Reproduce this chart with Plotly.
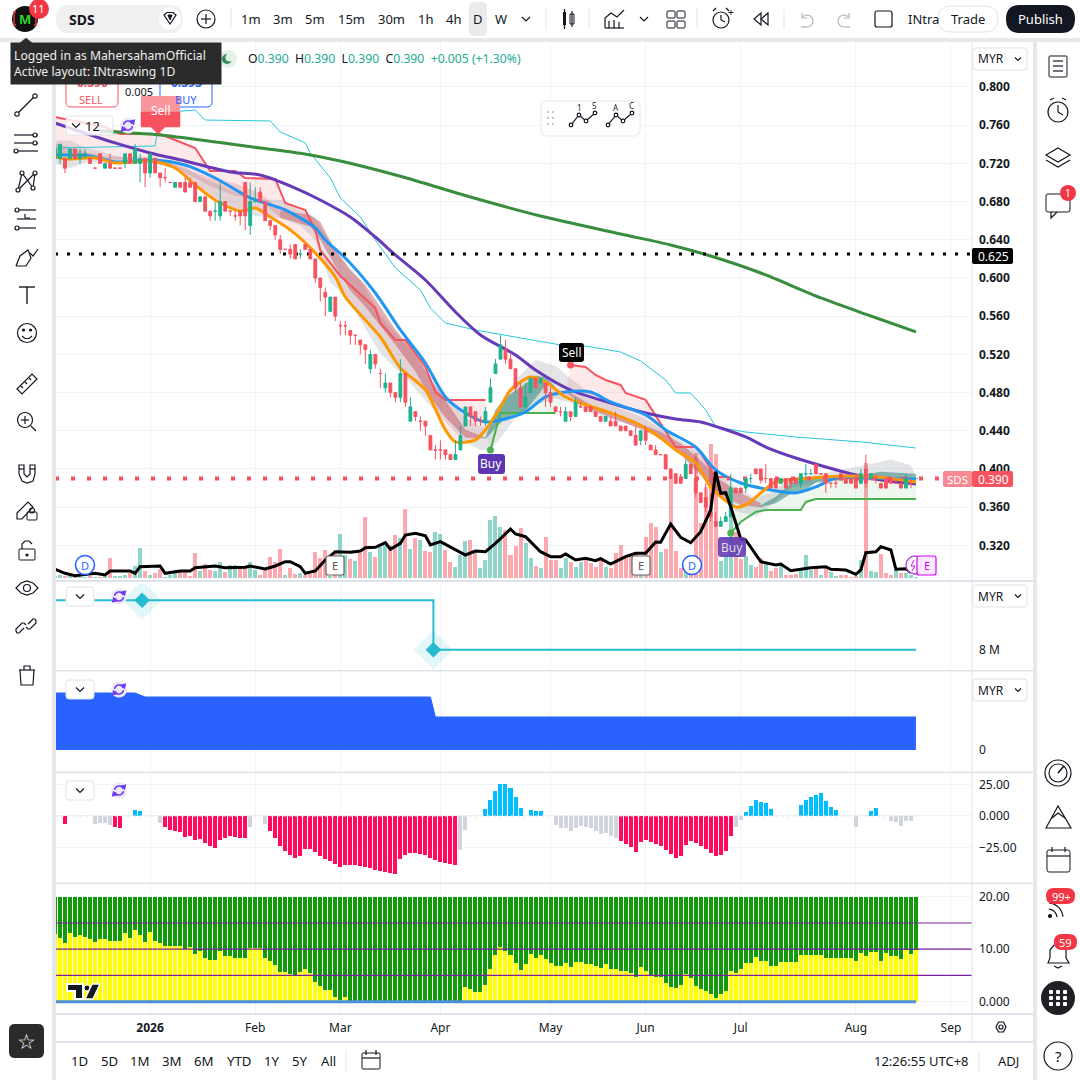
import math
import plotly.graph_objects as go

# ---------- candle data ----------
open_ = [.725,.725,.725,.725,.735,.725,.730,.725,.715,.730,.715,.720,.715,.715,.720,.730,.720,.720,.725,.710,.725,.710,.705,.700,.695,.700,.700,.700,.700,.680,
.685,.670,.670,.665,.680,.670,.665,.670,.700,.655,.680,.690,.680,.660,.655,.640,.630,.630,.635,.625,.635,.630,.620,.600,.585,.565,.580,.550,.550,.545,
.540,.535,.530,.505,.520,.500,.485,.490,.480,.475,.500,.450,.460,.450,.450,.435,.420,.420,.420,.415,.410,.420,.445,.465,.460,.450,.450,.470,.500,.515,
.525,.515,.505,.485,.465,.480,.495,.490,.490,.480,.465,.460,.450,.460,.455,.465,.465,.465,.460,.455,.450,.450,.450,.445,.445,.440,.435,.430,.440,.425,
.420,.415,.415,.400,.395,.390,.390,.405,.390,.375,.370,.355,.345,.340,.345,.350,.380,.380,.380,.390,.400,.400,.390,.390,.390,.385,.390,.390,.390,.385,
.395,.395,.405,.395,.395,.385,.385,.395,.390,.390,.390,.385,.400,.390,.390,.385,.390,.390,.385,.385,.380,.385,.390]
high = [.735,.740,.725,.735,.735,.735,.735,.725,.715,.730,.720,.730,.715,.715,.730,.730,.740,.730,.725,.730,.725,.710,.715,.700,.700,.700,.705,.705,.700,.685,
.685,.670,.680,.700,.680,.670,.670,.670,.700,.700,.695,.695,.680,.660,.655,.645,.630,.635,.635,.630,.635,.630,.620,.600,.590,.580,.580,.555,.555,.545,
.540,.535,.530,.525,.520,.505,.500,.490,.480,.515,.500,.475,.460,.455,.450,.435,.425,.430,.420,.415,.430,.445,.465,.465,.460,.455,.465,.495,.515,.540,
.535,.520,.505,.490,.490,.495,.495,.495,.490,.485,.465,.465,.465,.460,.475,.470,.465,.465,.460,.455,.455,.455,.460,.445,.445,.440,.445,.440,.445,.425,
.425,.415,.415,.400,.395,.395,.410,.405,.405,.375,.385,.375,.355,.350,.355,.395,.380,.380,.390,.395,.400,.400,.405,.390,.390,.390,.390,.390,.390,.395,
.405,.400,.405,.395,.395,.385,.390,.395,.390,.390,.395,.400,.415,.395,.395,.385,.390,.390,.390,.385,.395,.390,.390]
low = [.720,.720,.710,.725,.725,.720,.725,.720,.715,.720,.715,.715,.715,.715,.715,.720,.720,.700,.695,.705,.710,.695,.700,.700,.695,.695,.690,.695,.680,.680,
.670,.660,.660,.660,.670,.665,.660,.655,.650,.645,.680,.680,.660,.650,.640,.625,.630,.620,.620,.620,.630,.620,.595,.575,.560,.565,.555,.540,.540,.530,
.530,.520,.510,.500,.505,.485,.480,.475,.470,.470,.465,.450,.450,.440,.435,.420,.410,.410,.410,.410,.410,.420,.445,.445,.445,.445,.445,.470,.500,.515,
.510,.505,.480,.465,.465,.480,.485,.490,.465,.465,.460,.455,.450,.450,.455,.465,.460,.460,.455,.450,.450,.445,.445,.440,.440,.435,.425,.425,.425,.420,
.415,.415,.400,.390,.385,.385,.390,.395,.370,.365,.355,.345,.340,.340,.345,.350,.375,.375,.375,.385,.395,.385,.385,.380,.380,.385,.380,.380,.385,.380,
.390,.395,.395,.395,.375,.380,.380,.390,.385,.385,.380,.385,.380,.390,.385,.380,.380,.385,.385,.380,.380,.380,.390]
close = [.735,.740,.715,.735,.725,.730,.730,.720,.715,.720,.720,.715,.715,.715,.730,.720,.735,.725,.710,.730,.710,.705,.705,.700,.700,.695,.690,.695,.680,.685,
.670,.665,.670,.680,.670,.670,.665,.665,.665,.680,.680,.680,.660,.655,.645,.630,.630,.625,.620,.625,.630,.620,.600,.590,.580,.580,.560,.550,.550,.540,
.540,.530,.525,.520,.510,.500,.490,.480,.475,.500,.470,.465,.455,.450,.445,.420,.420,.420,.415,.410,.415,.435,.465,.455,.450,.450,.460,.485,.510,.530,
.515,.505,.485,.465,.475,.495,.485,.495,.480,.470,.460,.460,.460,.455,.470,.465,.460,.460,.455,.450,.455,.445,.445,.440,.440,.435,.425,.440,.430,.420,
.415,.415,.400,.390,.385,.385,.405,.395,.375,.365,.360,.350,.340,.345,.350,.380,.375,.375,.390,.390,.395,.390,.390,.380,.380,.390,.380,.385,.385,.395,
.395,.395,.395,.395,.385,.385,.385,.390,.385,.385,.380,.395,.385,.395,.390,.380,.380,.385,.385,.380,.390,.385,.390]
bars = list(range(len(close)))

volume = [.2,.3,.2,.2,.1,.1,.1,.2,.1,.1,.2,2.0,.2,.2,.3,.5,1.2,3.0,.7,.3,.5,.9,.1,.3,.5,.8,.8,.2,2.5,.7,1.4,.8,.7,1.6,.6,1.3,1.3,1.2,1.2,1.6,.8,.3,.9,2.1,1.6,2.9,.3,1.0,.4,.5,.3,.4,2.6,2.0,2.8,.2,2.5,4.4,2.3,1.9,
1.7,2.5,6.1,2.6,2.1,3.2,3.3,3.3,4.3,4.0,6.9,2.9,4.0,3.8,2.7,2.6,4.6,4.4,2.8,1.6,1.1,2.3,3.7,3.8,2.5,1.0,1.8,5.8,6.2,5.1,4.8,2.3,3.2,5.0,3.5,2.0,1.2,1.0,4.1,1.8,1.8,1.0,2.0,1.6,1.1,1.6,2.1,1.5,1.1,2.1,1.1,1.0,2.5,3.3,2.1,2.3,2.6,1.1,4.1,5.5,
5.1,2.6,2.9,10.0,2.7,1.0,1.6,.6,12.5,5.5,9.1,13.4,12.4,1.7,2.3,6.2,4.6,1.9,2.2,1.3,1.1,2.0,1.6,.7,1.0,1.5,.3,.3,.4,.8,2.3,.8,1.0,.3,1.1,.6,.2,.3,.3,.15,.2,1.8,11.5,.7,.6,2.4,.5,.3,.8,.5,.5,.3,.1]

vol_ma_x = [0,2,4,8,10,11,15,16,17,21,22,25,27,28,32,34,38,39,42,44,46,47,49,50,52,54,56,59,61,62,64,66,67,69,70,72,74,75,77,79,82,84,86,88,91,92,94,97,99,101,102,104,106,108,109,111,114,116,118,120,121,123,125,127,129,131,132,133,134,135,137,138,141,144,145,147,151,154,155,158,160,161,162,164,165,167,168,170,171]
vol_ma = [.87,.47,.23,.47,.30,.70,.70,.47,1.13,1.20,.47,.70,.70,1.03,1.20,1.03,1.07,1.20,.90,1.20,1.63,1.63,1.13,.47,.70,1.80,2.63,2.57,2.70,3.03,3.07,3.53,2.87,3.47,4.30,4.47,4.23,3.30,3.63,3.13,2.30,2.70,2.63,3.47,4.90,4.40,4.13,2.63,2.13,2.13,2.40,1.80,1.97,1.73,1.93,1.40,2.13,2.47,2.47,3.60,3.57,5.40,4.07,3.53,4.63,6.80,10.63,8.47,8.53,7.13,3.90,3.80,1.63,1.30,1.40,.73,1.03,1.13,.87,.80,.37,.80,2.53,2.63,3.13,2.80,.87,.93,.53]

# ---------- overlays on price ----------
ma200_x = [9,21,38,49,57,69,83,97,113,123,131,141,153,163,172]
ma200 = [.7539,.7497,.7382,.7305,.7225,.7065,.6848,.6649,.6461,.6346,.623,.6052,.5791,.5602,.5435]
purple_x = [0,12,19,26,35,41,48,53,59,64,68,74,80,85,92,96,103,111,118,124,129,133,138,142,148,154,160,165,172]
purple = [.7623,.7414,.7309,.7225,.7110,.7079,.6942,.6817,.6639,.6429,.6241,.5979,.5644,.5403,.5194,.5037,.4827,.4691,.4586,.4524,.4492,.4429,.4335,.4230,.4115,.4021,.3937,.3885,.3843]
blue_x = [0,7,12,20,26,32,39,46,52,54,58,64,69,74,78,82,86,89,94,98,102,107,111,118,122,128,132,137,142,148,152,156,162,172]
blue = [.7288,.7278,.7215,.7236,.7183,.7047,.6838,.6712,.6524,.6398,.6209,.5843,.5456,.5110,.4754,.4587,.4492,.4513,.4597,.4754,.4806,.4806,.4702,.4566,.4409,.4230,.3990,.3853,.3790,.3749,.3812,.3906,.3906,.3895]
orange_x = [0,2,8,12,19,24,28,32,37,40,43,47,52,56,58,65,69,74,78,80,84,86,89,91,95,98,102,105,111,116,121,124,128,131,136,138,141,144,151,158,164,172]
orange = [.7270,.7246,.7257,.7204,.7225,.7152,.6974,.6817,.6702,.6733,.6639,.6503,.6262,.6010,.5801,.5382,.5058,.4827,.4409,.4283,.4304,.4409,.4649,.4827,.4963,.4911,.4754,.4691,.4586,.4482,.4325,.4199,.4063,.3812,.3602,.3623,.3749,.3864,.3906,.3927,.3916,.3864]
cyan_x = [0,20,21,28,30,43,45,50,51,55,57,61,64,68,73,75,78,84,93,101,106,113,117,122,124,127,130,132,138,148,161,172]
cyan = [.7361,.7382,.7728,.7759,.7654,.7644,.7529,.7414,.7309,.7047,.6838,.6639,.6398,.6105,.5874,.5686,.5529,.5455,.5372,.5299,.5288,.5225,.5131,.4932,.4796,.4796,.4618,.4440,.4387,.4335,.4283,.4220]
red1_x = [0,10,13,21,24,28,31,36,38,44,46,50,52,53,57,64,65,68,70,74,76,78,86]
red1 = [.7686,.7581,.7508,.7508,.7445,.7361,.7120,.7120,.7047,.7037,.6785,.6712,.6503,.6293,.6021,.5686,.5529,.5351,.5351,.5068,.4806,.4723,.4723]
red2_x = [103,106,108,110,113,114,118,121,124,128,129,132,134]
red2 = [.5089,.5068,.4984,.4932,.4880,.4796,.4723,.4482,.4230,.4230,.4167,.3916,.3916]
green1_x = [87,89,100]
green1 = [.4199,.4587,.4587]
green2_x = [135,137,140,142,149,150,152,172]
green2 = [.3330,.3445,.3550,.3571,.3571,.3655,.3686,.3686]

gray_x = [0,3,6,13,19,25,29,35,40,45,49,52,55,58,61,65,71,76,82,85,87,90,92,96,100,103,106,110,117,124,128,132,136,140,143,147,154,160,167,171,172]
gray_up = [.744,.744,.737,.727,.724,.720,.706,.692,.682,.682,.671,.663,.637,.617,.598,.561,.525,.491,.453,.444,.446,.477,.493,.514,.508,.495,.483,.469,.455,.433,.420,.399,.381,.370,.375,.389,.396,.402,.410,.404,.392]
gray_lo = [.720,.715,.721,.720,.720,.713,.695,.674,.665,.663,.655,.640,.595,.582,.556,.521,.490,.460,.428,.420,.420,.439,.454,.467,.474,.469,.462,.454,.443,.423,.397,.376,.356,.350,.362,.380,.387,.387,.389,.390,.392]
rib_r0_x = [0,5,10,20,25,31,36,41,45]
rib_r0_up = [.741,.734,.727,.727,.716,.705,.699,.689,.671]
rib_r0_lo = [.729,.727,.724,.724,.713,.696,.686,.682,.663]
rib_r1_x = [45,51,53,56,59,62,65,68,72,75,78,82,86]
rib_r1_up = [.671,.666,.659,.629,.608,.593,.570,.546,.521,.494,.472,.441,.433]
rib_r1_lo = [.663,.654,.640,.612,.587,.570,.550,.530,.502,.475,.454,.433,.432]
rib_g1_x = [86,88,90,94,96,98,100]
rib_g1_up = [.433,.462,.475,.489,.498,.496,.486]
rib_g1_lo = [.431,.443,.453,.461,.474,.488,.486]
rib_r2_x = [102,107,114,121,125,129,133,137,141]
rib_r2_up = [.483,.467,.453,.439,.427,.409,.388,.375,.364]
rib_r2_lo = [.480,.462,.448,.433,.415,.394,.373,.362,.360]
rib_g2_x = [141,144,147,150,152,160,165,172]
rib_g2_up = [.362,.371,.385,.390,.392,.393,.397,.395]
rib_g2_lo = [.360,.364,.374,.378,.386,.390,.390,.386]

level_black = .625
level_red = .390

# ---------- lower panes ----------
step_x = [0,75.6,172]
step_val = [12,8,8]
diamond_x = [17.4,75.6]
diamond_val = [12,8]
area_x = [0,16,18,75,76,172]
area_val = [5.7,5.7,5.3,5.3,3.3,3.3]

hist = {2:-6.4,8:-6.4,9:-5.6,10:-5.6,11:-7.2,12:-8.8,13:-9.6,16:4.8,17:4.0,21:-5.6,22:-8.8,23:-11,24:-12,25:-12.7,26:-16.7,27:-16,28:-19,29:-18.3,30:-21.5,31:-23.9,32:-25.5,33:-19,34:-17.5,35:-16,36:-16.7,37:-17.5,38:-17.5,39:-8.8,42:-6.4,43:-12,44:-17.5,45:-23.9,46:-27.9,47:-31,48:-33.4,49:-31.8,50:-26.3,51:-26.3,52:-28.7,53:-31.8,54:-34.2,55:-35.8,56:-38.2,57:-40.6,58:-39,59:-39,60:-39,61:-39.8,62:-40.6,63:-41.4,64:-43,65:-43.8,66:-44.6,67:-45.4,68:-46.2,69:-34.2,70:-31,71:-29.5,72:-29.5,73:-30,74:-31,75:-33.4,76:-35,77:-36.6,78:-37.4,79:-38,80:-39,81:-27,82:-11,86:5.6,87:12.7,88:19.9,89:25.5,90:25.5,91:22.3,92:15,93:6.4,95:4.8,96:4,97:4,100:-7.2,101:-9.6,102:-9.6,103:-12,104:-9.6,105:-8,106:-8.8,107:-9.6,108:-12,109:-14.3,110:-13.5,111:-16,112:-17.5,113:-20,114:-22.3,115:-24.7,116:-28.7,117:-20.7,118:-19,119:-20.7,120:-22.3,121:-23.9,122:-27,123:-30.3,124:-33.4,125:-31.8,126:-23,127:-20,128:-21.5,129:-23.9,130:-26.3,131:-29.5,132:-31.8,133:-31,134:-27.9,135:-16,136:-8.8,137:-3.2,138:3.2,139:8,140:12.7,141:11,142:10.4,143:5.6,149:8.8,150:12.7,151:15,152:16.7,153:18.3,154:12,155:7.2,156:4.8,160:-8.8,163:4,164:6.4,167:-4,168:-4.8,169:-8,170:-4,171:-4}
hist_gray = {8,9,10,11,21,39,42,81,82,100,101,102,103,104,105,106,107,108,109,110,111,112,136,137,160,167,168,169,170,171}
yellow = [12.9,12.2,11.2,13.1,12.4,12.7,12.4,12.0,11.4,12.0,12.0,11.6,11.6,11.6,13.1,12.2,13.7,12.7,11.4,13.3,11.6,11.2,10.6,10.6,10.6,10.6,10.1,10.4,9.1,9.7,8.3,8.0,8.0,9.7,8.7,8.7,8.3,8.3,8.3,10.3,10.3,10.3,8.3,7.8,7.0,5.7,5.7,5.3,4.9,5.7,6.2,5.5,3.8,3.0,2.2,2.2,.9,.3,.9,
0,0,0,0,0,0,0,0,0,0,0,0,0,0,0,0,0,0,0,0,0,0,0,
2.8,2.4,1.8,1.8,3.2,6.2,8.9,10.4,9.7,8.9,7.4,6.1,7.2,9.1,8.3,8.9,8.2,7.4,6.8,6.8,7.4,6.6,7.6,7.6,7.2,7.2,6.8,6.4,7.2,6.2,6.2,5.9,5.9,5.5,4.7,6.6,5.9,5.1,4.7,4.7,3.6,2.8,2.6,3.2,5.3,4.5,3.0,2.4,2.0,1.5,.7,1.5,2.0,5.9,5.5,6.2,7.4,7.4,8.5,7.8,7.8,6.8,6.8,7.6,7.6,7.6,7.6,8.9,8.9,8.9,8.9,8.9,8.3,8.3,8.3,8.3,8.3,8.3,7.8,9.3,8.7,9.5,9.5,7.8,9.3,8.7,8.7,8.2,9.9,9.1,9.9]
stack_top = 20
levels = [15,10,5]

month_pos = [19,40,57,77,99,118,137,160,179]
month_lbl = ["<b>2026</b>","Feb","Mar","Apr","May","Jun","Jul","Aug","Sep"]
price_ticks = [.8,.76,.72,.68,.64,.6,.56,.52,.48,.44,.4,.36,.32]

# ---------- colours ----------
UP="#22ab94"; DN="#f7525f"; GRID="#f0f3fa"; INK="#131722"; SEP="#e0e3eb"
FONT="Noto Sans"
XR=[0.2,183.2]

fig = go.Figure()
def band(xu,yu,xl,yl,color,name):
    return go.Scatter(x=list(xu)+list(xl)[::-1],y=list(yu)+list(yl)[::-1],fill="toself",fillcolor=color,
        mode="lines",line=dict(width=0),hoverinfo="skip",name=name,yaxis="y2",xaxis="x")
def sub(xs,ys,a,b):
    p=[(x,y) for x,y in zip(xs,ys) if a<=x<=b]
    return [q[0] for q in p],[q[1] for q in p]
def ln(xs,ys,color,w,name,yaxis="y2",dash=None,smooth=False):
    line=dict(color=color,width=w,dash=dash)
    if smooth: line.update(shape="spline",smoothing=.8)
    return go.Scatter(x=xs,y=ys,mode="lines",line=line,hoverinfo="skip",name=name,yaxis=yaxis,xaxis="x")

# volume (base axis)
vcol=["rgba(34,171,148,.5)" if c>=o else "rgba(247,82,95,.5)" for o,c in zip(open_,close)]
fig.add_bar(x=bars,y=volume,marker=dict(color=vcol,line_width=0),width=.8,xaxis="x",yaxis="y",name="Vol")

# fills
PINK="rgba(247,82,95,.13)"; LG="rgba(76,175,80,.10)"
ox,oy=sub(orange_x,orange,0,86); fig.add_trace(band(red1_x,red1,ox,oy,PINK,"st1"))
ox,oy=sub(orange_x,orange,102,136); fig.add_trace(band(red2_x,red2,ox,oy,PINK,"st2"))
ox,oy=sub(orange_x,orange,86,102); fig.add_trace(band(green1_x,green1,ox,oy,LG,"st3"))
ox,oy=sub(orange_x,orange,136,172); fig.add_trace(band(green2_x,green2,ox,oy,LG,"st4"))
fig.add_trace(band(gray_x,gray_up,gray_x,gray_lo,"rgba(120,123,134,.2)","bb"))
fig.add_trace(band(rib_r0_x,rib_r0_up,rib_r0_x,rib_r0_lo,"rgba(178,40,51,.16)","r0"))
fig.add_trace(band(rib_r1_x,rib_r1_up,rib_r1_x,rib_r1_lo,"rgba(178,40,51,.36)","r1"))
fig.add_trace(band(rib_g1_x,rib_g1_up,rib_g1_x,rib_g1_lo,"rgba(0,105,92,.42)","g1"))
fig.add_trace(band(rib_r2_x,rib_r2_up,rib_r2_x,rib_r2_lo,"rgba(178,40,51,.36)","r2"))
fig.add_trace(band(rib_g2_x,rib_g2_up,rib_g2_x,rib_g2_lo,"rgba(0,105,92,.42)","g2"))

# lines
fig.add_trace(ln(cyan_x,cyan,"#26c6da",1,"cyan"))
fig.add_trace(ln(red1_x,red1,"#f7525f",2,"st red"))
fig.add_trace(ln(red2_x,red2,"#f7525f",2,"st red"))
fig.add_trace(ln(green1_x,green1,"#4caf50",2,"st green"))
fig.add_trace(ln(green2_x,green2,"#4caf50",2,"st green"))
fig.add_trace(ln(ma200_x,ma200,"#388e3c",3,"ma",smooth=True))
fig.add_trace(ln(purple_x,purple,"#673ab7",3,"purple",smooth=True))
fig.add_trace(ln(blue_x,blue,"#2196f3",3,"blue",smooth=True))
fig.add_trace(ln(orange_x,orange,"#ff9800",3,"orange",smooth=True))
fig.add_trace(ln([0,183],[level_black,level_black],"#000000",3,"lvl",dash="3px,9px"))
fig.add_trace(ln([0,177],[level_red,level_red],DN,4,"last",dash="4px,12px"))
fig.add_trace(go.Scatter(x=[87,135],y=[.4199,.3330],mode="markers",marker=dict(color="#4caf50",size=7),yaxis="y2",xaxis="x",hoverinfo="skip"))
fig.add_trace(go.Scatter(x=[103],y=[.5089],mode="markers",marker=dict(color=DN,size=7),yaxis="y2",xaxis="x",hoverinfo="skip"))

# candles
fig.add_trace(go.Candlestick(x=bars,open=open_,high=high,low=low,close=close,xaxis="x",yaxis="y3",
    increasing=dict(line=dict(color=UP,width=1),fillcolor="#12bd85"),
    decreasing=dict(line=dict(color=DN,width=1),fillcolor=DN),whiskerwidth=0,hoverinfo="skip"))
# volume MA on top
fig.add_trace(ln(vol_ma_x,vol_ma,"#000000",3,"volma",yaxis="y4"))

# pane 2
fig.add_trace(go.Scatter(x=step_x,y=step_val,mode="lines",line=dict(color="#26bcd0",width=2,shape="hv"),xaxis="x2",yaxis="y5",hoverinfo="skip"))
fig.add_trace(go.Scatter(x=diamond_x,y=diamond_val,mode="markers",marker=dict(symbol="diamond",size=30,color="rgba(38,188,208,.13)"),xaxis="x2",yaxis="y5",hoverinfo="skip"))
fig.add_trace(go.Scatter(x=diamond_x,y=diamond_val,mode="markers",marker=dict(symbol="diamond",size=12,color="#26bcd0"),xaxis="x2",yaxis="y5",hoverinfo="skip"))
# pane 3
fig.add_trace(go.Scatter(x=area_x,y=area_val,mode="lines",fill="tozeroy",fillcolor="#2962ff",line=dict(color="#2962ff",width=1),xaxis="x3",yaxis="y6",hoverinfo="skip"))
# pane 4
hx=sorted(hist)
hc=["#d1d4dc" if i in hist_gray else ("#00bfff" if hist[i]>0 else "#ff0a5e") for i in hx]
fig.add_bar(x=hx,y=[hist[i] for i in hx],marker=dict(color=hc,line_width=0),width=.8,xaxis="x4",yaxis="y7")
fig.add_trace(go.Scatter(x=[0,172],y=[0,0],mode="lines",line=dict(color="#e0e3eb",width=1,dash="3px,3px"),xaxis="x4",yaxis="y7",hoverinfo="skip"))
# pane 5
fig.add_bar(x=bars,y=yellow,marker=dict(color="#ffff00",line_width=0),width=.8,xaxis="x5",yaxis="y8")
fig.add_bar(x=bars,y=[stack_top-v for v in yellow],marker=dict(color="#129a0b",line_width=0),width=.8,xaxis="x5",yaxis="y8")
for lv in levels:
    fig.add_trace(go.Scatter(x=[0,183.2],y=[lv,lv],mode="lines",line=dict(color="#7b1fa2",width=1.2),xaxis="x5",yaxis="y8",hoverinfo="skip"))
fig.add_trace(go.Scatter(x=[0,172],y=[0,0],mode="lines",line=dict(color="#4a90d9",width=3),xaxis="x5",yaxis="y8",hoverinfo="skip"))

def dom(top,bottom): return [1-bottom/1080,1-top/1080]
xd=[56/1080,972/1080]
def xa(anchor,labels=False):
    return dict(domain=xd,range=XR,anchor=anchor,tickmode="array",tickvals=month_pos,ticktext=month_lbl if labels else [""]*9,
        showgrid=True,gridcolor=GRID,gridwidth=1,zeroline=False,showline=False,ticks="",ticklabelstandoff=6,
        showticklabels=labels,tickfont=dict(family=FONT,size=12,color=INK),rangeslider=dict(visible=False))
def pa(**k):
    d=dict(side="right",zeroline=False,showline=False,ticks="",ticklabelstandoff=6,tickfont=dict(family=FONT,size=12,color=INK),gridcolor=GRID,showgrid=True)
    d.update(k); return d
PR=[.2827,.8471]
VR=[-.3,53.6]
lay=dict(width=1080,height=1080,margin=dict(l=0,r=0,t=0,b=0),paper_bgcolor="#ffffff",plot_bgcolor="#ffffff",
    showlegend=False,barmode="stack",bargap=.2,boxgap=.2,hovermode=False,dragmode=False,
    xaxis=xa("y"),xaxis2=xa("y5"),xaxis3=xa("y6"),xaxis4=xa("y7"),xaxis5=xa("y8",True),
    yaxis=dict(domain=dom(42,581),range=VR,visible=False),
    yaxis2=pa(overlaying="y",anchor="x",range=PR,tickmode="array",tickvals=price_ticks,ticktext=[f"<b>{v:.3f}</b>" for v in price_ticks]),
    yaxis3=dict(overlaying="y",anchor="x",range=PR,visible=False),
    yaxis4=dict(overlaying="y",anchor="x",range=VR,visible=False),
    yaxis5=pa(domain=dom(584,670),anchor="x2",range=[6.37,13.31],tickmode="array",tickvals=[8],ticktext=["8 M"],showgrid=False),
    yaxis6=pa(domain=dom(672,772),anchor="x3",range=[-2.2,7.8],tickmode="array",tickvals=[0],ticktext=["0"],showgrid=False),
    yaxis7=pa(domain=dom(773,883),anchor="x4",range=[-53.3,34.2],tickmode="array",tickvals=[25,0,-25],ticktext=["25.00","0.000","−25.00"]),
    yaxis8=pa(domain=dom(884,1013),anchor="x5",range=[-2.17,22.44],tickmode="array",tickvals=[20,10,0],ticktext=["20.00","10.00","0.000"]),
)
fig.update_layout(**lay)

# ---------- chrome helpers ----------
shapes=[]; annos=[]
X=lambda p:p/1080
Y=lambda p:1-p/1080
def path(d,color=INK,w=1.2,fill=None):
    shapes.append(dict(type="path",xref="paper",yref="paper",path=d,line=dict(color=color,width=w),fillcolor=fill or "rgba(0,0,0,0)"))
def poly(pts,color=INK,w=1.2,fill=None,closed=False):
    d="M "+" L ".join(f"{X(a):.5f},{Y(b):.5f}" for a,b in pts)+(" Z" if closed else "")
    path(d,color,w,fill)
def rr(x0,y0,x1,y1,r,line=None,fill=None,w=1):
    c=lambda a,b:f"{X(a):.5f},{Y(b):.5f}"
    d=(f"M {c(x0+r,y0)} L {c(x1-r,y0)} Q {c(x1,y0)} {c(x1,y0+r)} L {c(x1,y1-r)} Q {c(x1,y1)} {c(x1-r,y1)} "
       f"L {c(x0+r,y1)} Q {c(x0,y1)} {c(x0,y1-r)} L {c(x0,y0+r)} Q {c(x0,y0)} {c(x0+r,y0)} Z")
    shapes.append(dict(type="path",xref="paper",yref="paper",path=d,line=dict(color=line or "rgba(0,0,0,0)",width=w if line else 0),fillcolor=fill or "rgba(0,0,0,0)"))
def rect(x0,y0,x1,y1,fill):
    shapes.append(dict(type="rect",xref="paper",yref="paper",x0=X(x0),x1=X(x1),y0=Y(y0),y1=Y(y1),fillcolor=fill,line=dict(width=0)))
def circ(cx,cy,r,line=INK,fill=None,w=1.2):
    shapes.append(dict(type="circle",xref="paper",yref="paper",x0=X(cx-r),x1=X(cx+r),y0=Y(cy+r),y1=Y(cy-r),line=dict(color=line or "rgba(0,0,0,0)",width=w if line else 0),fillcolor=fill or "rgba(0,0,0,0)"))
def t(x,y,s,size=13,color=INK,anchor="center",**k):
    annos.append(dict(xref="paper",yref="paper",x=X(x),y=Y(y),text=s,showarrow=False,xanchor=anchor,yanchor="middle",
        font=dict(family=FONT,size=size,color=color),borderpad=0,**k))
def chev(x,y,s=4,color=INK):
    poly([(x-s,y-s/2),(x,y+s/2),(x+s,y-s/2)],color,1.2)
def arc(cx,cy,r,a0,a1,color=INK,w=1.2):
    n=10
    poly([(cx+r*math.cos(math.radians(a0+(a1-a0)*k/n)),cy+r*math.sin(math.radians(a0+(a1-a0)*k/n))) for k in range(n+1)],color,w)

# outer separators
rect(0,0,1080,38,"#ffffff"); rect(0,38,1080,42,"#e8e8ea")
rect(0,42,52,1080,"#ffffff"); rect(52,42,56,1080,"#e8e8ea")
rect(1037,42,1080,1080,"#ffffff"); rect(1033,42,1037,1080,"#e8e8ea")
poly([(972,42),(972,1042)],SEP,1)
rect(56,580,1033,582,SEP); rect(56,670,1033,671.5,SEP); rect(56,771.5,1033,773,SEP); rect(56,882.5,1033,884,SEP)
rect(56,1013,1033,1015,SEP); rect(56,1041,1033,1043,SEP)

# top bar
circ(25,19,13,line=None,fill="#111111")
t(25,19,"<b>M</b>",13,"#2fd02f")
poly([(16,12),(14,12),(14,25),(16,25)],"#e33",1.4); poly([(34,12),(36,12),(36,25),(34,25)],"#e33",1.4)
circ(39,9,10,line=None,fill="#f23645"); t(39,9,"11",11,"#ffffff")
rr(56,5,183,33,14,fill="#f0f0f0"); t(68,19,"<b>SDS</b>",14,INK,"left")
circ(170,18.5,11,line=None,fill="#ffffff")
poly([(164,15),(167,12.5),(173,12.5),(176,15),(170,24)],INK,1.2,closed=True); poly([(168,15),(172,15),(170,20)],INK,1,fill=INK,closed=True)
circ(206,19,9); poly([(201,19),(211,19)]); poly([(206,14),(206,24)])
poly([(231,9),(231,29)],SEP,1)
for x,s in zip([251,283,315,351,391,425,453,478,501],["1m","3m","5m","15m","30m","1h","4h","D","W"]):
    if s=="D": rr(469,2,487,36,5,fill="#ebebeb")
    t(x,19,s,13)
chev(526,19)
poly([(546,9),(546,29)],SEP,1)
rect(563,12,566,25,"#131722"); poly([(564.5,9),(564.5,29)]); rr(570,14,574,24,0,line=INK); poly([(572,11),(572,27)])
poly([(589,9),(589,29)],SEP,1)
poly([(605,28),(605,18),(611,13),(617,17),(624,10)]); poly([(605,28),(624,28)]); poly([(609,28),(609,21)]); poly([(614,28),(614,20)]); poly([(619,28),(619,22)])
chev(644,19)
for a,b in [(667,11),(677,11),(667,21),(677,21)]: rr(a,b,a+8,b+7,1,line=INK)
poly([(697,9),(697,29)],SEP,1)
circ(721,20,8); poly([(721,15),(721,20),(725,22)]); poly([(713,11),(716,8)]); poly([(729,11),(726,8)]); t(731,12,"+",10)
poly([(761,13),(754,19),(761,25)],closed=True); poly([(768,13),(761,19),(768,25)],closed=True)
poly([(784,9),(784,29)],SEP,1)
arc(807,21,6,-135,90,"#b2b5be"); poly([(802,13),(802,18),(807,18)],"#b2b5be"); poly([(801,27),(807,27)],"#b2b5be")
arc(844,21,6,-45,-270,"#b2b5be"); poly([(849,13),(849,18),(844,18)],"#b2b5be"); poly([(850,27),(844,27)],"#b2b5be")
rr(875,11,892,27,2,line=INK,w=1.2)
t(907,19,"INtra",13,INK,"left")
rr(938,6,998,32,13,line=SEP,fill="#ffffff"); t(968,19,"Trade",13)
rr(1006,5,1075,33,14,fill="#131722"); t(1040.5,19,"Publish",13,"#ffffff")

# OHLC legend
def span(s,c): return f'<span style="color:{c}">{s}</span>'
circ(228,59,9,line=None,fill="#e3f1e6"); circ(227,59,5,line=None,fill="#2e8b57"); circ(229.5,57.5,4,line=None,fill="#e3f1e6")
t(247,59,span("O",INK)+span("0.390",UP)+"  "+span("H",INK)+span("0.390",UP)+"  "+span("L",INK)+span("0.390",UP)+"  "+span("C",INK)+span("0.390",UP)+"  "+span("+0.005 (+1.30%)",UP),12.2,UP,"left")

# buy/sell chips
rr(66,76,118,107,5,line=DN,fill="#ffffff"); t(92,83,"<b>0.390</b>",12,DN); t(91,99,"SELL",11,DN)
rr(160,76,212,107,5,line="#2962ff",fill="#ffffff"); t(186,83,"<b>0.393</b>",12,"#2962ff"); t(186,99,"BUY",11,"#2962ff")
t(139,91,"0.005",11,INK)
annos.append(dict(xref="paper",yref="paper",x=X(116),y=Y(63.5),text="Logged in as MahersahamOfficial<br>Active layout: INtraswing 1D",showarrow=False,
    xanchor="center",yanchor="middle",align="left",width=204,height=35,bgcolor="#2a2a2a",borderpad=3,font=dict(family=FONT,size=12.2,color="#eeeeee")))
poly([(20,43),(26,38),(32,43)],"#2a2a2a",0.5,fill="#2a2a2a",closed=True)

# sell flag
rect(141,96,180,112,"#f9969c")
poly([(141,112),(180,112),(180,127),(165,127),(158,134),(151,127),(141,127)],DN,0.5,fill=DN,closed=True)
t(161,111,"Sell",12,"#ffffff")
# signal labels
rr(478,454,505,474,3,fill="#5e35b1"); t(491,464,"Buy",12,"#ffffff")
rr(718,537,746,557,3,fill="rgba(94,53,177,.88)"); t(732,547,"Buy",12,"#dddddd")
rr(559,343,584,362,3,fill="#000000"); t(571.5,352.5,"Sell",12,"#ffffff")
# price labels
rr(972,248,1013,264,2,fill="#000000"); t(993,256,"0.625",12,"#ffffff")
rr(943,471,972,487,2,fill="#f98a93"); t(957,479,"SDS",11.5,"#ffffff")
rr(972,471,1013,487,2,fill=DN); t(993,479,"0.390",12,"#ffffff")

# events
for cx in (85,692):
    circ(cx,565,9.5,line="#2962ff",fill="#ffffff",w=1.6); t(cx,565,"D",11,"#2962ff")
for x0 in (326,632):
    rr(x0,556,x0+18,575,2,line="#666666",fill="#ffffff",w=1.2)
    t(x0+9,565.5,"E",11,"#555555")
circ(915,565,9,line="#b04de0",fill="#ffffff",w=1.4); poly([(914,560),(911,566),(915,566),(912,571)],"#d500f9",1)
rr(917,556,936,575,2,line="#d500f9",fill="#fbe9ff",w=1.2); t(926.5,565.5,"E",11,"#d500f9")

# pane chips
def refresh(cx,cy):
    circ(cx,cy,8,line=None,fill="#ece8fa")
    arc(cx,cy,4.5,-170,-20,"#6a3df0",1.6); arc(cx,cy,4.5,10,160,"#6a3df0",1.6)
    poly([(cx+2.5,cy-4.5),(cx+5.5,cy-1.5),(cx+6.5,cy-5.5)],"#6a3df0",1.2,fill="#6a3df0",closed=True)
    poly([(cx-2.5,cy+4.5),(cx-5.5,cy+1.5),(cx-6.5,cy+5.5)],"#6a3df0",1.2,fill="#6a3df0",closed=True)
for y0 in (587,680,781):
    rr(66,y0,94,y0+19,3,line=SEP,fill="#ffffff"); chev(80,y0+9.5)
    refresh(119,y0+9.5)
rr(66,116,113,135,3,line=SEP,fill="rgba(255,255,255,.8)"); chev(76,125.5); t(92,125.5,"12",13)
refresh(128,125.5)

# MYR chips
for y0 in (48,585,679):
    rr(973,y0,1027,y0+22,3,line=SEP,fill="#ffffff"); t(977,y0+11,"MYR",12,INK,"left"); chev(1018,y0+11,3)

# float toolbar
rr(541,101,640,136,6,line="#eceff5",fill="#ffffff",w=1.5)
for a in (548,553):
    for b in (112,118,124): circ(a,b,1,line=None,fill="#b2b5be")
for off,l1,l2 in ((0,"1","5"),(37,"A","C")):
    pts=[(571+off,125),(579+off,115),(586+off,121),(595+off,113)]
    poly(pts)
    for p in pts: circ(p[0],p[1],1.8,fill="#ffffff")
    t(579+off,107,l1,8); t(594+off,106,l2,8)

# left tools
poly([(18,113),(34,97)]); circ(17,114,2.2,fill="#fff"); circ(35,96,2.2,fill="#fff")
for y in (135,143,151): poly([(14,y),(38,y)])
circ(35,135,2,fill="#fff"); circ(35,143,2,fill="#fff"); circ(16,151,2,fill="#fff")
poly([(18,190),(22,173),(33,188),(35,173),(18,190)])
for a,b in [(18,190),(22,173),(33,188),(35,173)]: circ(a,b,2,fill="#fff")
for y in (210,219,228): poly([(17,y),(36,y)])
circ(17,210,2,fill="#fff"); circ(17,228,2,fill="#fff"); poly([(25,214),(25,218),(30,218)])
poly([(16,266),(20,256),(28,250),(31,258),(26,266),(16,266)]); poly([(30,253),(33,256),(38,249)])
poly([(19,287),(35,287)],w=1.4); poly([(27,287),(27,304)],w=1.4)
circ(27,333,9.5); circ(23.5,330,1,fill=INK); circ(30.5,330,1,fill=INK); poly([(22,336),(25,338.5),(29,338.5),(32,336)])
poly([(17,389),(32,374),(37,379),(22,394)],closed=True); poly([(21,386),(23,388)]); poly([(25,382),(27,384)]); poly([(29,378),(31,380)])
circ(25,420,7.5); poly([(31,426),(36,431)]); poly([(21,420),(29,420)]); poly([(25,416),(25,424)])
poly([(19,465),(19,474),(22,481),(27,483),(33,481),(35,474),(35,465),(30,465),(30,474),(27,477),(24,474),(24,465)],closed=True); poly([(19,469),(24,469)]); poly([(30,469),(35,469)])
poly([(17,519),(17,513),(28,502),(33,507),(22,519)],closed=True); rr(27,512,37,520,1,line=INK); circ(32,510.5,2.5)
rr(19,549,35,560,1,line=INK); poly([(22,549),(22,544),(25,541),(29,541),(32,544)]); circ(27,555,1,fill=INK)
poly([(16,588),(21,583),(27,581),(33,583),(38,588),(33,593),(27,595),(21,593)],closed=True); circ(27,588,3.5)
poly([(24,628),(19,633),(17,633),(16,631),(16,629),(22,623),(24,623),(26,625)]); poly([(28,624),(33,619),(35,619),(36,621),(36,623),(30,629),(28,629),(26,627)])
poly([(19,670),(35,670)]); poly([(20,670),(21,685),(33,685),(34,670)]); poly([(24,670),(24,666),(30,666),(30,670)])
rr(9,1024,44,1058,6,fill="#2a2a2a"); t(26,1041,"☆",21,"#ffffff")

# logo
poly([(67,984),(83,984),(83,999),(75,999),(75,991),(67,991)],"#ffffff",2,fill="#131722",closed=True)
circ(87,988,3,line="#ffffff",fill="#131722",w=1)
poly([(92,984),(100,984),(93,999),(85,999)],"#ffffff",1.5,fill="#131722",closed=True)

# right tools
rr(1049,56,1067,77,1,line=INK)
for y in (61,66,71): poly([(1053,y),(1063,y)])
circ(1058,112,10); poly([(1058,105),(1058,112),(1063,115)]); poly([(1050,100),(1054,98)]); poly([(1066,100),(1062,98)])
poly([(1058,148),(1070,155),(1058,162),(1046,155)],closed=True); poly([(1046,160),(1058,167),(1070,160)])
rr(1046,194,1070,212,2,line=INK); poly([(1051,212),(1051,218),(1057,212)],"#131722"); circ(1068,193,8,line=None,fill="#f23645"); t(1068,193,"1",10,"#fff")
circ(1058,773,13); circ(1058,773,9); poly([(1058,773),(1064,766)],w=1.6)
poly([(1046,828),(1058,806),(1071,828)],closed=True); poly([(1052,818),(1058,813),(1065,818)])
rr(1047,850,1070,872,2,line=INK); poly([(1047,856),(1070,856)]); poly([(1052,847),(1052,852)]); poly([(1065,847),(1065,852)])
circ(1050,916,1.5,fill=INK); arc(1048,918,9,-85,-5); arc(1048,918,15,-85,-5)
rr(1046,888,1075,904,8,fill="#f23645"); t(1061,896,"99+",11,"#fff")
poly([(1048,963),(1050,958),(1050,950),(1054,945),(1062,945),(1066,950),(1066,958),(1069,963)],closed=True); poly([(1054,966),(1058,968),(1062,966)])
rr(1054,934,1077,950,8,fill="#f23645"); t(1065,942,"59",11,"#fff")
circ(1058,998,17,line=None,fill="#202124")
for a in (1051,1058,1065):
    for b in (992,998,1004): rr(a-2,b-2,a+2,b+2,1,fill="#ffffff")
circ(1058,1056,14); t(1058,1056,"?",15)
poly([(996,1027),(998.5,1022),(1003.5,1022),(1006,1027),(1003.5,1032),(998.5,1032)],closed=True); circ(1001,1027,2)

# bottom bar
for x,s in zip([79,109,140,172,204,239,272,300,328],["1D","5D","1M","3M","6M","YTD","1Y","5Y","All"]):
    t(x,1061,s,13.2)
poly([(346,1051),(346,1071)],SEP,1)
rr(362,1053,380,1069,1,line=INK); poly([(362,1058),(380,1058)]); poly([(366,1050),(366,1055)]); poly([(376,1050),(376,1055)])
t(921,1061,"12:26:55 UTC+8",13)
poly([(979,1051),(979,1071)],SEP,1)
t(1008,1061,"ADJ",13)

fig.update_layout(shapes=shapes,annotations=annos)
fig.write_html("out.html",post_script="document.body.style.margin='0';document.body.style.overflow='hidden';",config=dict(displayModeBar=False))
